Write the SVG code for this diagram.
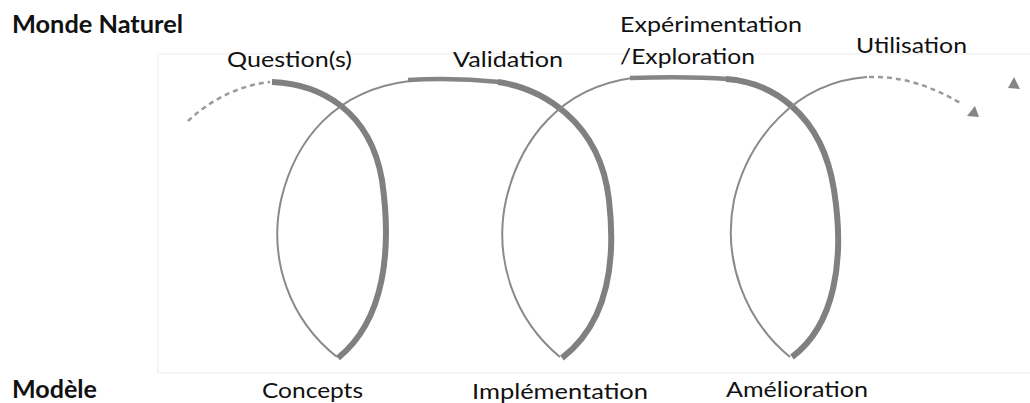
<svg xmlns="http://www.w3.org/2000/svg" width="1030" height="403" viewBox="0 0 1030 403">
<style>
.lbl{font-family:Lato,"Liberation Sans",sans-serif;font-size:21px;fill:#111}
.hd{font-family:Lato,"Liberation Sans",sans-serif;font-size:24px;font-weight:bold;fill:#111}
.thin{fill:none;stroke:#8a8a8a;stroke-width:2}
.med{fill:none;stroke:#858585;stroke-width:4.5}
.thick{fill:none;stroke:#808080;stroke-width:6}
.dash{fill:none;stroke:#9a9a9a;stroke-width:2.5;stroke-dasharray:5 4}
.head{fill:#858585}
</style>
<rect x="158" y="54" width="890" height="319" fill="none" stroke="#ececec" stroke-width="1"/>
<g id="axes">
<text class="hd" x="12" y="33" textLength="171" lengthAdjust="spacingAndGlyphs">Monde Naturel</text>
<text class="hd" x="12" y="398" textLength="85" lengthAdjust="spacingAndGlyphs">Modèle</text>
</g>
<g id="connectors">
<path class="dash" d="M188,121 C210,100 240,85 270,82"/>
<path class="thin" d="M337,357 C290,320 268,260 281,200 C295,140 335,90 410,81"/>
<path class="thick" d="M272,82 C320,84 370,110 382,180 C392,250 385,320 338,358"/>
<path class="med" d="M408,80 C440,78 470,79 500,82"/>
<path class="thick" d="M498,82 C540,88 600,120 609,200 C617,270 605,325 562,358"/>
<path class="thin" d="M560,357 C515,320 493,260 506,200 C520,140 560,88 632,78"/>
<path class="med" d="M630,78 C665,77 700,77 728,79"/>
<path class="thick" d="M726,79 C770,82 822,112 834,190 C845,260 835,325 792,357"/>
<path class="thin" d="M790,357 C745,320 722,260 734,200 C748,140 795,82 867,77"/>
<path class="dash" d="M869,77 C900,76 930,85 962,104"/>
<polygon class="head" points="967,116 975,106 979,117"/>
<polygon class="head" points="1008,88 1014,77 1020,89"/>
</g>
<g id="n-question"><text class="lbl" x="227" y="67" textLength="125" lengthAdjust="spacingAndGlyphs">Question(s)</text></g>
<g id="n-validation"><text class="lbl" x="453" y="67" textLength="110" lengthAdjust="spacingAndGlyphs">Validation</text></g>
<g id="n-experimentation"><text class="lbl" x="620" y="32" textLength="182" lengthAdjust="spacingAndGlyphs">Expérimentation</text><text class="lbl" x="620" y="64" textLength="135" lengthAdjust="spacingAndGlyphs">/Exploration</text></g>
<g id="n-utilisation"><text class="lbl" x="856" y="53" textLength="111" lengthAdjust="spacingAndGlyphs">Utilisation</text></g>
<g id="n-concepts"><text class="lbl" x="262" y="398" textLength="101" lengthAdjust="spacingAndGlyphs">Concepts</text></g>
<g id="n-implementation"><text class="lbl" x="472" y="399" textLength="176" lengthAdjust="spacingAndGlyphs">Implémentation</text></g>
<g id="n-amelioration"><text class="lbl" x="726" y="397" textLength="142" lengthAdjust="spacingAndGlyphs">Amélioration</text></g>
</svg>
